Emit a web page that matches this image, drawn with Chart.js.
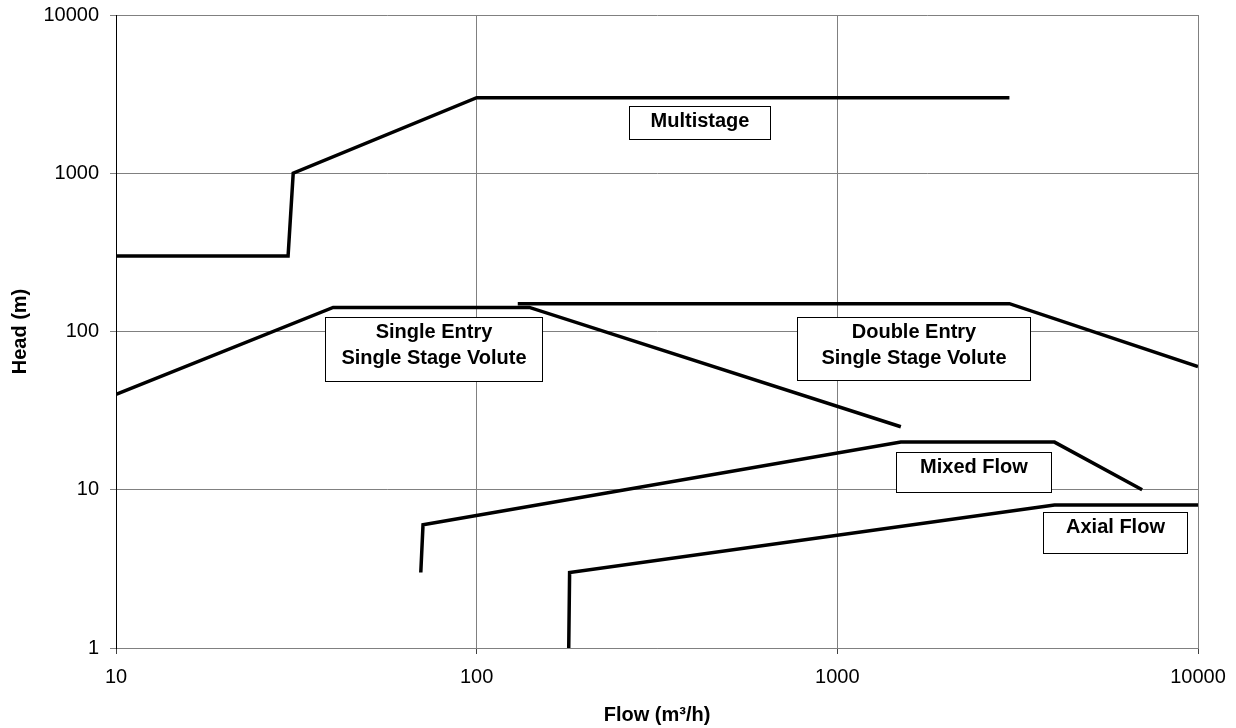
<!DOCTYPE html>
<html><head><meta charset="utf-8">
<script src="https://cdn.jsdelivr.net/npm/chart.js@4.4.1/dist/chart.umd.min.js"></script>
<style>html,body{margin:0;padding:0;background:#fff}canvas{display:block}</style>
</head><body>
<canvas id="c" width="1236" height="728"></canvas>
<script>
// ---- data ----
const xTickValues = [10, 100, 1000, 10000];
const yTickValues = [1, 10, 100, 1000, 10000];

const multistageFlow = [10, 30, 31, 100, 3000];
const multistageHead = [300, 300, 1000, 3000, 3000];
const singleEntryFlow = [10, 40, 140, 1500];
const singleEntryHead = [40, 142, 142, 25];
const doubleEntryFlow = [130, 3000, 10000];
const doubleEntryHead = [150, 150, 60];
const mixedFlowFlow = [70, 71, 1500, 4000, 7000];
const mixedFlowHead = [3, 6, 20, 20, 10];
const axialFlowFlow = [180, 181, 4000, 10000];
const axialFlowHead = [1, 3, 8, 8];

const seriesNames = ['Multistage', 'Single Entry Single Stage Volute', 'Double Entry Single Stage Volute', 'Mixed Flow', 'Axial Flow'];
const labelLines = [['Multistage'], ['Single Entry', 'Single Stage Volute'], ['Double Entry', 'Single Stage Volute'], ['Mixed Flow'], ['Axial Flow']];

// label box anchors (data coordinates of box centre) and box sizes in px
const labelBoxes = [
  {flow: 415, head: 2096, w: 141, h: 33},
  {flow: 75.8, head: 77.9, w: 217, h: 64},
  {flow: 1624, head: 78.6, w: 233, h: 63},
  {flow: 2384, head: 13.0, w: 155, h: 40},
  {flow: 5875, head: 5.33, w: 144, h: 41}
];

function pts(xs, ys) { return xs.map((x, i) => ({x: x, y: ys[i]})); }
const allSeries = [
  pts(multistageFlow, multistageHead),
  pts(singleEntryFlow, singleEntryHead),
  pts(doubleEntryFlow, doubleEntryHead),
  pts(mixedFlowFlow, mixedFlowHead),
  pts(axialFlowFlow, axialFlowHead)
];

const FONT = '"Liberation Sans", Arial, Helvetica, sans-serif';

const labelPlugin = {
  id: 'labelBoxes',
  beforeDatasetsDraw(chart) {
    const ctx = chart.ctx;
    const xs = chart.scales.x, ys = chart.scales.y;
    ctx.save();
    labelBoxes.forEach((b, i) => {
      const cx = xs.getPixelForValue(b.flow);
      const cy = ys.getPixelForValue(b.head);
      const left = Math.round(cx - b.w / 2) + 0.5;
      const top = Math.round(cy - b.h / 2) + 0.5;
      ctx.fillStyle = '#fff';
      ctx.fillRect(left, top, b.w, b.h);
      ctx.strokeStyle = '#000';
      ctx.lineWidth = 1;
      ctx.strokeRect(left, top, b.w, b.h);
      ctx.fillStyle = '#000';
      ctx.font = 'bold 20px ' + FONT;
      ctx.textAlign = 'center';
      ctx.textBaseline = 'alphabetic';
      labelLines[i].forEach((t, j) => {
        ctx.fillText(t, left + b.w / 2, top + 20 + j * 26);
      });
    });
    ctx.restore();
  }
};

const bgPlugin = {
  id: 'bg',
  beforeDraw(chart) {
    const ctx = chart.ctx;
    ctx.save();
    ctx.fillStyle = '#fff';
    ctx.fillRect(0, 0, chart.width, chart.height);
    ctx.restore();
  }
};

new Chart(document.getElementById('c'), {
  type: 'line',
  data: {
    datasets: allSeries.map((d, i) => ({
      label: seriesNames[i],
      data: d,
      borderColor: '#000',
      backgroundColor: '#000',
      borderWidth: 3.5,
      pointRadius: 0,
      tension: 0,
      fill: false,
      borderJoinStyle: 'miter',
      borderCapStyle: 'butt'
    }))
  },
  options: {
    responsive: false,
    animation: false,
    layout: {padding: {left: 0, top: 15, right: 38, bottom: 0}},
    plugins: {legend: {display: false}, tooltip: {enabled: false}},
    scales: {
      x: {
        type: 'logarithmic',
        min: 10, max: 10000,
        afterBuildTicks(scale) { scale.ticks = xTickValues.map(v => ({value: v})); },
        afterFit(scale) { scale.height = 80; scale.paddingLeft = 0; scale.paddingRight = 0; },
        ticks: {
          autoSkip: false, maxRotation: 0, padding: 11, color: '#000',
          font: {family: FONT, size: 20},
          callback: (v) => String(v)
        },
        grid: {color: '#808080', lineWidth: 1, drawTicks: true, tickLength: 6, tickColor: '#404040'},
        border: {display: true, color: '#808080', width: 1},
        title: {
          display: true, text: 'Flow (m³/h)', color: '#000',
          font: {family: FONT, size: 20, weight: 'bold'},
          padding: {top: 0, bottom: 1}
        }
      },
      y: {
        type: 'logarithmic',
        min: 1, max: 10000,
        afterBuildTicks(scale) { scale.ticks = yTickValues.map(v => ({value: v})); },
        afterFit(scale) { scale.width = 116; scale.paddingTop = 0; scale.paddingBottom = 0; },
        ticks: {
          autoSkip: false, padding: 11, color: '#000',
          font: {family: FONT, size: 20},
          callback: (v) => String(v)
        },
        grid: {color: '#808080', lineWidth: 1, drawTicks: true, tickLength: 6, tickColor: '#808080'},
        border: {display: true, color: '#000', width: 1},
        title: {
          display: true, text: 'Head (m)', color: '#000',
          font: {family: FONT, size: 20, weight: 'bold'},
          padding: {top: 8, bottom: 0}
        }
      }
    }
  },
  plugins: [bgPlugin, labelPlugin]
});
</script>
</body></html>
